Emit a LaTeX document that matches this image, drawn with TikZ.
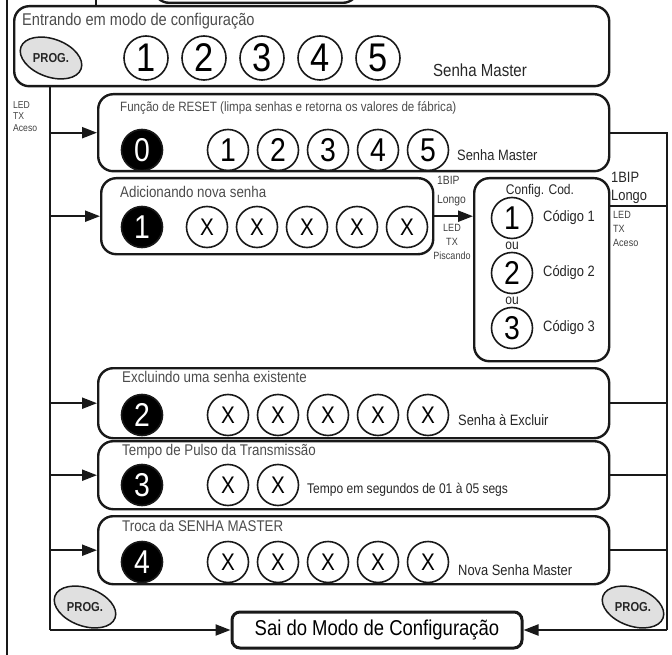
\documentclass[tikz,border=0pt]{standalone}
\usepackage{fontspec}
\setmainfont{Liberation Sans}[FakeStretch=0.86]
\usetikzlibrary{arrows.meta, shapes.geometric, calc, positioning}
\newcommand\fsz[2]{\fontsize{#1}{#2}\selectfont}

\begin{document}
\begin{tikzpicture}[
    x=1pt, y=-1pt,
    bus/.style={draw=black!90, line width=2.2pt},
    flow_arrow/.style={bus, -{Triangle[length=15pt, width=11pt]}},
    % Caixas de menu
    panel/.style={rectangle, rounded corners=15pt, draw=black!90, line width=2.4pt, anchor=north west, inner sep=0pt},
    exit_box/.style={rectangle, rounded corners=8pt, draw=black!90, line width=3pt, minimum width=290pt, minimum height=36pt, inner sep=0pt, font=\fsz{21.5}{21.5}},
    % Teclas
    key/.style={circle, draw=black!90, line width=1.6pt, inner sep=0pt, minimum size=41pt, font=\fsz{33}{33}},
    big_key/.style={key, minimum size=44pt, font=\fsz{40}{40}},
    x_key/.style={key, font=\fsz{24}{24}},
    dark_key/.style={key, fill=black, text=white},
    prog/.style={ellipse, draw=black!90, fill=black!12, line width=1.5pt, minimum width=64pt, minimum height=38pt, inner sep=0pt, rotate=-20},
    prog_label/.style={inner sep=0pt, font=\bfseries\fsz{13}{13}, text=black!85},
    % Textos
    title/.style={anchor=west, inner sep=0pt, text=black!70, font=\fsz{15.5}{15.5}},
    hint/.style={anchor=west, inner sep=0pt, text=black!85, font=\fsz{15}{15}},
    note/.style={inner sep=0pt, text=black!75, font=\fsz{10.5}{14}}
]
    \useasboundingbox (0,0) rectangle (672,655);

    % =====================================================================
    % Restos do diagrama anterior (cortados na borda)
    % =====================================================================
    \coordinate (edge_top) at (96,-5);
    \coordinate (edge_l1) at (7,-5);
    \coordinate (edge_l2) at (7,660);
    \node [panel, anchor=south, minimum width=204pt, minimum height=40pt] (upper) at (256,4) {};
    \draw [bus] (edge_l1) -- (edge_l2);

    % =====================================================================
    % Entrada no modo de configuracao
    % =====================================================================
    \node [panel, minimum width=595pt, minimum height=80pt] (entrada) at (13,5) {};
    \draw [bus] (edge_top) -- (edge_top |- entrada.north);
    \node [title, font=\fsz{17}{17}] (entrada_t) at (22,21) {Entrando em modo de configuração};
    \node [prog] (prog_in) at (51,58) {};
    \node [prog_label] (prog_in_t) at (prog_in) {PROG.};
    \foreach \d in {1,...,5}
        \node [big_key] (m\d) at (88+58*\d,58) {\d};
    \node [hint, font=\fsz{17.5}{17.5}] (entrada_h) at (433,70) {Senha Master};

    % Funcao de RESET
    \node [panel, minimum width=511pt, minimum height=77pt] (reset) at (97,93) {};
    \node [title, font=\fsz{13.5}{13.5}] (reset_t) at (120,108) {Função de RESET (limpa senhas e retorna os valores de fábrica)};
    \node [dark_key] (r0) at (142,150) {0};
    \foreach \d in {1,...,5}
        \node [key] (r\d) at (178+50*\d,150) {\d};
    \node [hint] (reset_h) at (457,155) {Senha Master};

    % Adicionando nova senha
    \node [panel, minimum width=332pt, minimum height=76pt] (nova) at (100,177) {};
    \node [title] (nova_t) at (120,192) {Adicionando nova senha};
    \node [dark_key] (n0) at (142,227) {1};
    \foreach \i in {1,...,5}
        \node [x_key] (n\i) at (157+50*\i,227) {X};

    % Config. Cod.
    \node [panel, minimum width=135pt, minimum height=183pt] (config) at (473,177) {};
    \node [inner sep=0pt, font=\fsz{14}{14}, text=black!85] (config_t) at (540,191) {Config. Cod.};
    \foreach \d in {1,2,3} {
        \node [key] (c\d) at (512,163+55*\d) {\d};
        \node [hint] (c\d_h) at (543,163+55*\d) {Código \d};
    }
    \node [inner sep=0pt, font=\fsz{14}{14}, text=black!85] (ou1) at (512,246) {ou};
    \node [inner sep=0pt, font=\fsz{14}{14}, text=black!85] (ou2) at (512,301) {ou};

    % Excluindo uma senha existente
    \node [panel, minimum width=511pt, minimum height=70pt] (exclui) at (97,367) {};
    \node [title] (exclui_t) at (122,377) {Excluindo uma senha existente};
    \node [dark_key] (e0) at (142,415) {2};
    \foreach \i in {1,...,5}
        \node [x_key] (e\i) at (178+50*\i,415) {X};
    \node [hint] (exclui_h) at (458,420) {Senha à Excluir};

    % Tempo de pulso
    \node [panel, minimum width=511pt, minimum height=68pt] (tempo) at (97,440) {};
    \node [title] (tempo_t) at (122,451) {Tempo de Pulso da Transmissão};
    \node [dark_key] (p0) at (142,485) {3};
    \foreach \i in {1,2}
        \node [x_key] (p\i) at (178+50*\i,485) {X};
    \node [hint, font=\fsz{14}{14}] (tempo_h) at (307,490) {Tempo em segundos de 01 à 05 segs};

    % Troca da senha master
    \node [panel, minimum width=511pt, minimum height=68pt] (troca) at (97,515) {};
    \node [title] (troca_t) at (122,526) {Troca da SENHA MASTER};
    \node [dark_key] (t0) at (142,562) {4};
    \foreach \i in {1,...,5}
        \node [x_key] (t\i) at (178+50*\i,562) {X};
    \node [hint] (troca_h) at (458,570) {Nova Senha Master};

    % Saida
    \node [prog] (prog_l) at (85,607) {};
    \node [prog_label] (prog_l_t) at (prog_l) {PROG.};
    \node [prog] (prog_r) at (633,607) {};
    \node [prog_label] (prog_r_t) at (prog_r) {PROG.};
    \node [exit_box] (sai) at (377,630) {Sai do Modo de Configuração};

    % =====================================================================
    % Ligacoes
    % =====================================================================
    \coordinate (lb) at (50,630);
    \coordinate (rb) at (667,630);
    \coordinate (cfg_out) at ($(config.north east)+(0,29)$);

    \draw [bus] (entrada.south -| lb) -- (lb);
    \foreach \n in {reset, nova, exclui, tempo, troca}
        \draw [flow_arrow] (\n.west -| lb) -- (\n.west);
    \draw [flow_arrow] (lb) -- (sai.west);

    \draw [bus] (reset.east) -- (reset.east -| rb) -- (rb);
    \draw [bus] (cfg_out) -- (cfg_out -| rb);
    \foreach \n in {exclui, tempo, troca}
        \draw [bus] (\n.east) -- (\n.east -| rb);
    \draw [flow_arrow] (rb) -- (sai.east);

    \draw [flow_arrow] (nova.east) -- (nova.east -| config.west);

    % Avisos
    \node [note, align=left, anchor=north west, font=\fsz{10}{11.5}] (led_l) at (13,101) {LED\\TX\\Aceso};
    \node [note, align=left, anchor=north west, font=\fsz{12}{19}] (bip_l) at (437,176) {1BIP\\Longo};
    \node [note, align=center, anchor=north] (led_m) at (452,224) {LED\\TX\\Piscando};
    \node [note, align=left, anchor=north west, font=\fsz{15}{18}, text=black!85] (bip_r) at (611,172) {1BIP\\Longo};
    \node [note, align=left, anchor=north west] (led_r) at (613,211) {LED\\TX\\Aceso};
\end{tikzpicture}
\end{document}
